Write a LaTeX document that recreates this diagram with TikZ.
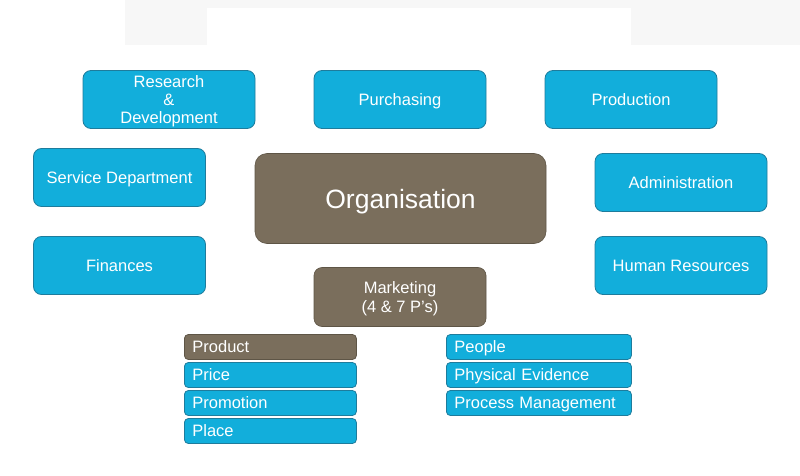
\documentclass[tikz,border=0pt]{standalone}
\usepackage{fontspec}
\setmainfont{Liberation Sans}
\definecolor{bluebox}{HTML}{12AEDB}
\definecolor{blueedge}{HTML}{1E7C9C}
\definecolor{brownbox}{HTML}{7A6E5C}
\definecolor{brownedge}{HTML}{5E5546}
\definecolor{topgray}{HTML}{F7F7F7}
\begin{document}
\begin{tikzpicture}[x=1pt,y=-1pt,
  dept/.style={draw=blueedge,line width=0.8pt,fill=bluebox,rounded corners=8pt,minimum width=172pt,minimum height=58pt,text=white,font=\fontsize{16.5}{19}\selectfont,align=center,inner sep=0pt,text depth=0pt},
  core/.style={draw=brownedge,line width=0.6pt,fill=brownbox,rounded corners=12pt,text=white,align=center,inner sep=0pt,text depth=0pt},
  pitem/.style={draw=blueedge,line width=0.8pt,fill=bluebox,rounded corners=4pt,minimum height=25pt,text=white,font=\fontsize{16.5}{19}\selectfont,anchor=west,align=left,text width=156pt,inner xsep=8pt,inner ysep=0pt,text depth=0pt}]
\useasboundingbox (0,0) rectangle (800,476);
\fill[white] (0,0) rectangle (800,476);
\fill[topgray] (125,0) rectangle (800,45);
\fill[white] (207,8) rectangle (631,45);
\node[dept] (rd) at (169,99.5) {Research\\[-1pt]\&\\[-1pt]Development};
\node[dept] (pur) at (400,99.5) {Purchasing};
\node[dept] (prod) at (631,99.5) {Production};
\node[dept] (serv) at (119.5,177.5) {Service Department};
\node[dept] (adm) at (681,182.5) {Administration};
\node[dept] (fin) at (119.5,265.5) {Finances};
\node[dept] (hr) at (681,265.5) {Human Resources};
\node[core,minimum width=291pt,minimum height=90pt,font=\fontsize{26.5}{30}\selectfont] (org) at (400.5,198.5) {Organisation};
\node[core,rounded corners=8pt,minimum width=172pt,minimum height=59pt,font=\fontsize{16.5}{19}\selectfont] (mkt) at (400,297) {Marketing\\(4 \& 7 P’s)};
\node[pitem,fill=brownbox,draw=brownedge] (product) at (184,347) {Product};
\node[pitem] (price) at (184,375) {Price};
\node[pitem] (promo) at (184,403) {Promotion};
\node[pitem] (place) at (184,431) {Place};
\node[pitem,text width=169pt] (people) at (446,347) {People};
\node[pitem,text width=169pt] (phys) at (446,375) {Physical Evidence};
\node[pitem,text width=169pt] (proc) at (446,403) {Process Management};
\end{tikzpicture}
\end{document}
